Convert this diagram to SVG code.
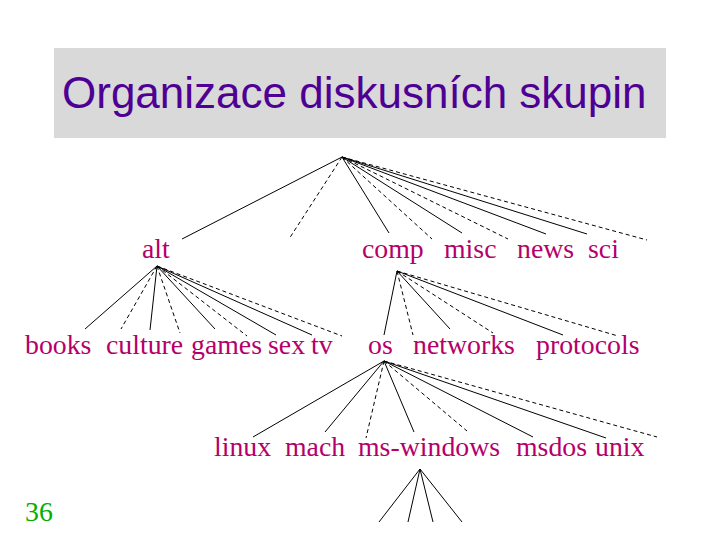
<svg xmlns="http://www.w3.org/2000/svg" width="720" height="540" viewBox="0 0 720 540">
<style>
.t{font-family:"Liberation Serif","Times New Roman",serif;font-size:27.8px;fill:#B5006A}
.s{stroke:#000;stroke-width:1;fill:none}
.d{stroke:#000;stroke-width:1;fill:none;stroke-dasharray:4 3}
</style>
<rect width="720" height="540" fill="#fff"/>
<g id="title">
<rect x="54" y="48" width="612" height="90" fill="#D9D9D9"/>
<text x="62" y="108" font-family="Liberation Sans, Arial, sans-serif" font-size="44" fill="#4F0094">Organizace diskusních skupin</text>
</g>
<g id="connectors">
<line class="s" x1="342" y1="157" x2="182" y2="239"/>
<line class="d" x1="342" y1="157" x2="289" y2="239"/>
<line class="s" x1="342" y1="157" x2="389" y2="233"/>
<line class="d" x1="342" y1="157" x2="432" y2="239"/>
<line class="s" x1="342" y1="157" x2="462" y2="233"/>
<line class="d" x1="342" y1="157" x2="508" y2="239"/>
<line class="s" x1="342" y1="157" x2="546" y2="234"/>
<line class="s" x1="342" y1="157" x2="587" y2="234"/>
<line class="d" x1="342" y1="157" x2="647" y2="240"/>

<line class="s" x1="157" y1="266" x2="85" y2="329"/>
<line class="d" x1="157" y1="266" x2="121" y2="329"/>
<line class="s" x1="157" y1="266" x2="150" y2="330"/>
<line class="d" x1="157" y1="266" x2="180" y2="333"/>
<line class="s" x1="157" y1="266" x2="215" y2="329"/>
<line class="d" x1="157" y1="266" x2="247" y2="336"/>
<line class="s" x1="157" y1="266" x2="276" y2="335"/>
<line class="s" x1="157" y1="266" x2="312" y2="335"/>
<line class="d" x1="157" y1="266" x2="342" y2="336"/>

<line class="s" x1="397" y1="271" x2="384" y2="335"/>
<line class="d" x1="397" y1="271" x2="413" y2="335"/>
<line class="s" x1="397" y1="271" x2="450" y2="329"/>
<line class="d" x1="397" y1="271" x2="493" y2="333"/>
<line class="s" x1="397" y1="271" x2="563" y2="335"/>
<line class="d" x1="397" y1="271" x2="618" y2="336"/>

<line class="s" x1="384" y1="361" x2="253" y2="437"/>
<line class="s" x1="384" y1="361" x2="325" y2="432"/>
<line class="d" x1="384" y1="361" x2="366" y2="438"/>
<line class="s" x1="384" y1="361" x2="414" y2="432"/>
<line class="d" x1="384" y1="361" x2="467" y2="431"/>
<line class="s" x1="384" y1="361" x2="533" y2="437"/>
<line class="s" x1="384" y1="361" x2="606" y2="438"/>
<line class="d" x1="384" y1="361" x2="657" y2="437"/>

<line class="s" x1="420" y1="469" x2="379" y2="522"/>
<line class="s" x1="420" y1="469" x2="408" y2="522"/>
<line class="s" x1="420" y1="469" x2="433" y2="522"/>
<line class="s" x1="420" y1="469" x2="462" y2="522"/>
</g>
<g id="n-alt"><text class="t" x="142" y="258">alt</text></g>
<g id="n-comp"><text class="t" x="362" y="258">comp</text></g>
<g id="n-misc"><text class="t" x="444" y="258">misc</text></g>
<g id="n-news"><text class="t" x="517" y="258">news</text></g>
<g id="n-sci"><text class="t" x="588" y="258">sci</text></g>
<g id="n-books"><text class="t" x="25" y="354">books</text></g>
<g id="n-culture"><text class="t" x="106" y="354">culture</text></g>
<g id="n-games"><text class="t" x="191" y="354">games</text></g>
<g id="n-sex"><text class="t" x="268" y="354">sex</text></g>
<g id="n-tv"><text class="t" x="311" y="354">tv</text></g>
<g id="n-os"><text class="t" x="368" y="354">os</text></g>
<g id="n-networks"><text class="t" x="413" y="354">networks</text></g>
<g id="n-protocols"><text class="t" x="536" y="354">protocols</text></g>
<g id="n-linux"><text class="t" x="214" y="456">linux</text></g>
<g id="n-mach"><text class="t" x="285" y="456">mach</text></g>
<g id="n-ms-windows"><text class="t" x="358" y="456">ms-windows</text></g>
<g id="n-msdos"><text class="t" x="516" y="456">msdos</text></g>
<g id="n-unix"><text class="t" x="595" y="456">unix</text></g>
<g id="page"><text x="25" y="521" font-family="Liberation Serif, Times New Roman, serif" font-size="27.8" fill="#00B000">36</text></g>
</svg>
